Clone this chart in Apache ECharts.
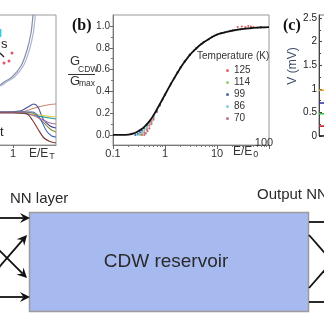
<!DOCTYPE html>
<html><head><meta charset="utf-8">
<script src="https://cdn.jsdelivr.net/npm/echarts@6/dist/echarts.min.js"></script>
<style>html,body{margin:0;padding:0;background:#fff;overflow:hidden}#c{width:324px;height:330px}</style>
</head><body><div id="c"></div>
<script>
const FONT = 'Arial, "Liberation Sans", sans-serif';

// ---- panel (a): E/E_T curves ----
const aOuter = [[0.30,0.54],[0.465,0.57],[0.698,0.60],[0.791,0.63],[0.977,0.68],[1.186,0.79],[1.326,0.95],[1.419,1.12],[1.465,1.30],[1.49,1.40]];
const aInner = [[0.35,0.54],[0.52,0.57],[0.75,0.60],[0.845,0.63],[1.03,0.68],[1.24,0.79],[1.38,0.95],[1.472,1.12],[1.52,1.30],[1.545,1.40]];
const aRedDots = [[0.977,0.92],[0.907,0.84],[0.791,0.82]];
const aBrown = [[0,0.34],[0.7,0.33],[1.16,0.33],[1.4,0.355],[1.63,0.385],[1.86,0.405],[2.0,0.41]];
const aNavy = [[0,0.32],[0.7,0.33],[1.16,0.34],[1.35,0.38],[1.48,0.41],[1.58,0.38],[1.7,0.26],[1.86,0.19],[2.0,0.17]];
const aTeal = [[0,0.33],[0.7,0.33],[1.16,0.32],[1.5,0.295],[2.0,0.26]];
const aYellow = [[0,0.335],[0.7,0.33],[1.16,0.325],[1.5,0.305],[2.0,0.28]];
const aOlive = [[0,0.33],[0.7,0.33],[1.16,0.33],[1.45,0.32],[1.65,0.25],[1.86,0.16],[2.0,0.13]];
const aBlue = [[0,0.325],[0.7,0.33],[1.16,0.33],[1.45,0.33],[1.62,0.27],[1.78,0.14],[1.9,0.09],[2.0,0.08]];
const aMauve = [[0,0.33],[0.7,0.33],[1.16,0.325],[1.45,0.30],[1.65,0.26],[1.86,0.22],[2.0,0.21]];
const aDarkRed = [[0,0.32],[0.7,0.32],[1.0,0.32],[1.3,0.315],[1.45,0.25],[1.58,0.16],[1.72,0.07],[1.86,0.035],[2.0,0.02]];
const aTickValues = [1];

// ---- panel (b): normalised CDW conductance ----
const bYTicks = [0, 0.2, 0.4, 0.6, 0.8, 1.0];
const bYMinor = [0.1, 0.3, 0.5, 0.7, 0.9];
const bFit = [[0.1,0],[0.15,0],[0.2,0.004],[0.25,0.014],[0.3,0.032],[0.35,0.052],[0.4,0.075],[0.5,0.125],[0.6,0.18],[0.7,0.235],[0.8,0.285],[1,0.37],[1.25,0.455],[1.5,0.52],[2,0.62],[2.5,0.685],[3,0.735],[4,0.795],[5,0.835],[7,0.88],[10,0.922],[15,0.945],[20,0.958],[30,0.972],[50,0.982],[70,0.987],[100,0.99]];
const temperatures = ['125', '114', '99', '86', '70'];
const tempColors = ['#d9413a', '#7dbb4f', '#2b3f8f', '#5fc3e6', '#b24a6a'];
const dots125 = [[0.36,0],[0.4,0.02],[0.45,0.05],[0.5,0.085],[0.55,0.12],[0.6,0.155],[0.7,0.22],[0.8,0.275],[1,0.365],[1.25,0.45],[1.5,0.52],[2,0.62],[3,0.735],[4,0.795],[5,0.835],[7,0.88],[10,0.918],[15,0.945],[20,0.962],[25,0.99],[30,0.995],[35,0.99],[40,1.0],[45,0.995],[50,0.99],[70,0.99]];
const dots114 = [[0.33,0],[0.36,0.015],[0.4,0.035],[0.45,0.065],[0.5,0.1],[0.55,0.135],[0.6,0.165],[0.7,0.225],[0.8,0.28],[1,0.368],[1.3,0.47],[1.5,0.52],[2,0.62],[2.5,0.685],[3,0.735],[4,0.795],[5,0.835],[7,0.88],[10,0.915],[15,0.945],[20,0.958],[30,0.97],[45,0.98],[80,0.988]];
const dots99 = [[0.27,0],[0.3,0.01],[0.33,0.025],[0.36,0.04],[0.4,0.06],[0.45,0.09],[0.5,0.12],[0.6,0.178],[0.7,0.232],[0.8,0.283],[1,0.37],[1.3,0.47],[1.75,0.575],[2.4,0.675],[3,0.735],[4,0.795],[5.5,0.85],[8,0.9],[12,0.935],[18,0.955],[28,0.97],[45,0.98],[70,0.987]];
const dots86 = [[0.3,0],[0.33,0.012],[0.36,0.028],[0.4,0.05],[0.45,0.08],[0.5,0.11],[0.6,0.172],[0.7,0.23],[0.8,0.282],[1,0.37],[1.3,0.47],[1.75,0.575],[2.4,0.675],[3.6,0.775],[5,0.835],[7,0.88],[10,0.92],[16,0.95],[25,0.966],[40,0.978],[65,0.986]];
const dots70 = [[0.4,0],[0.43,0.015],[0.46,0.035],[0.5,0.06],[0.55,0.1],[0.6,0.14],[0.7,0.21],[0.8,0.27],[0.9,0.325],[1,0.368],[1.3,0.47],[1.75,0.575],[2.4,0.675],[3.6,0.775],[5.5,0.85],[9,0.91],[14,0.942],[22,0.962],[35,0.976],[60,0.985]];
const tempDots = [dots125, dots114, dots99, dots86, dots70];
const bMinorE = [0.2,0.3,0.4,0.5,0.6,0.7,0.8,0.9,2,3,4,5,6,7,8,9,20,30,40,50,60,70,80,90];

// ---- panel (c): voltage traces ----
const cTicks = [0, 0.5, 1, 1.5, 2, 2.5];
const cMinor = [0.25, 0.75, 1.25, 1.75, 2.25];
const cLevels = [0, 0.21, 0.47, 0.70, 0.97];
const cColors = ['#1a1a1a', '#d03030', '#33c033', '#2a2aa8', '#e0a030'];

function lineSeries(data, color, width, xi, yi) {
  return { type: 'line', data: data, xAxisIndex: xi, yAxisIndex: yi, smooth: 0.35,
    showSymbol: false, symbol: 'none', silent: true,
    lineStyle: { color: color, width: width }, itemStyle: { color: color } };
}

function arrow(fx, fy, tx, ty) {
  const dx = tx - fx, dy = ty - fy, len = Math.hypot(dx, dy);
  const ux = dx / len, uy = dy / len, nx = -uy, ny = ux;
  const L = 10, W = 5, N = 6.5;
  return [
    { type: 'line', z: 100, shape: { x1: fx, y1: fy, x2: tx - N * ux, y2: ty - N * uy }, style: { stroke: '#111', lineWidth: 1.8 } },
    { type: 'polygon', z: 100, shape: { points: [[tx, ty], [tx - L * ux + W * nx, ty - L * uy + W * ny], [tx - N * ux, ty - N * uy], [tx - L * ux - W * nx, ty - L * uy - W * ny]] }, style: { fill: '#111' } }
  ];
}

const series = [];
// (a)
series.push(lineSeries(aOuter, '#868ea8', 1.2, 0, 0));
series.push(lineSeries(aInner, '#aab4d2', 1.2, 0, 0));
[[aBrown,'#c98770'],[aNavy,'#4a4c9a'],[aTeal,'#2f9f8f'],[aYellow,'#d9cf4a'],[aOlive,'#8f9040'],[aBlue,'#3f63c0'],[aMauve,'#a56ea8'],[aDarkRed,'#7b3535']]
  .forEach(([d, c]) => series.push(lineSeries(d, c, 1.1, 0, 0)));
series.push({ type: 'scatter', data: aRedDots, xAxisIndex: 0, yAxisIndex: 0, symbolSize: 3, itemStyle: { color: '#d03040' }, silent: true });
// (b)
temperatures.forEach((t, i) => series.push({ type: 'scatter', name: t, data: tempDots[i], xAxisIndex: 1, yAxisIndex: 1,
  symbol: 'circle', symbolSize: 2.2, itemStyle: { color: tempColors[i] }, silent: true, z: 3 }));
const fit = lineSeries(bFit, '#111', 1.8, 1, 1); fit.z = 5; fit.smooth = 0.3;
series.push(fit);
// (c)
cLevels.forEach((v, i) => series.push(Object.assign(lineSeries([[0, v], [1, v]], cColors[i], 1.6, 4, 3), { smooth: false })));

const lbl = (size, extra) => Object.assign({ fontFamily: FONT, fontSize: size, color: '#333' }, extra || {});

const option = {
  animation: false,
  backgroundColor: '#fff',
  grid: [
    { left: -30, top: 15, width: 86, height: 130, show: true, borderColor: '#9a9a9a', borderWidth: 1, outerBoundsMode: 'none', containLabel: false },
    { left: 113, top: 15, width: 156, height: 130, show: true, borderColor: '#9a9a9a', borderWidth: 1, outerBoundsMode: 'none', containLabel: false },
    { left: 319, top: 15, width: 60, height: 121, show: true, borderColor: '#777', borderWidth: 1, outerBoundsMode: 'none', containLabel: false }
  ],
  xAxis: [
    { gridIndex: 0, type: 'value', position: 'bottom', min: 0, max: 2, splitLine: { show: false },
      axisLine: { onZero: false, lineStyle: { color: '#888' } },
      axisTick: { customValues: aTickValues, length: 3, lineStyle: { color: '#666' } },
      axisLabel: lbl(11, { customValues: aTickValues, margin: 3 }) },
    { gridIndex: 1, type: 'log', position: 'bottom', logBase: 10, min: 0.1, max: 100, splitLine: { show: false },
      axisLine: { onZero: false, lineStyle: { color: '#777' } },
      axisTick: { length: 4, lineStyle: { color: '#666' } },
      axisLabel: lbl(11, { margin: 3, formatter: v => (Math.abs(v - 100) < 1e-6 ? '' : String(v)) }) },
    { gridIndex: 1, type: 'log', position: 'bottom', logBase: 10, min: 0.1, max: 100, offset: -11, splitLine: { show: false },
      axisLine: { show: false, onZero: false }, axisTick: { show: false },
      axisLabel: lbl(11, { margin: 3, formatter: v => (Math.abs(v - 100) < 1e-6 ? '{p|100}' : ''), rich: { p: { fontFamily: FONT, fontSize: 11, color: '#333', padding: [0, 10, 0, 0] } } }) },
    { gridIndex: 1, type: 'value', position: 'bottom', min: -1, max: 2, splitLine: { show: false },
      axisLine: { show: false, onZero: false },
      axisTick: { customValues: bMinorE.map(Math.log10), length: 2, lineStyle: { color: '#777' } },
      axisLabel: { show: false } },
    { gridIndex: 2, type: 'value', position: 'bottom', min: 0, max: 1, show: false, axisLine: { onZero: false } }
  ],
  yAxis: [
    { gridIndex: 0, type: 'value', position: 'left', min: 0, max: 1.3, show: false, axisLine: { onZero: false } },
    { gridIndex: 1, type: 'value', position: 'left', min: -0.092, max: 1.101, splitLine: { show: false },
      axisLine: { show: true, onZero: false, lineStyle: { color: '#777' } },
      axisTick: { show: true, customValues: bYTicks, length: 3, lineStyle: { color: '#666' } },
      axisLabel: lbl(10, { customValues: bYTicks, margin: 3, formatter: v => v.toFixed(1) }) },
    { gridIndex: 1, type: 'value', position: 'left', min: -0.092, max: 1.101, splitLine: { show: false },
      axisLine: { show: false, onZero: false },
      axisTick: { show: true, customValues: bYMinor, length: 2, lineStyle: { color: '#777' } },
      axisLabel: { show: false } },
    { gridIndex: 2, type: 'value', position: 'left', min: 0, max: 2.564, splitLine: { show: false },
      axisLine: { show: true, onZero: false, lineStyle: { color: '#444' } },
      axisTick: { show: true, inside: true, customValues: cTicks, length: 3, lineStyle: { color: '#444' } },
      axisLabel: lbl(10, { customValues: cTicks, margin: 2, color: '#222' }) },
    { gridIndex: 2, type: 'value', position: 'left', min: 0, max: 2.564, splitLine: { show: false },
      axisLine: { show: false, onZero: false },
      axisTick: { show: true, inside: true, customValues: cMinor, length: 2, lineStyle: { color: '#444' } },
      axisLabel: { show: false } }
  ],
  legend: {
    data: temperatures, orient: 'vertical', left: 226, top: 65, padding: 0,
    icon: 'circle', itemWidth: 3, itemHeight: 3, itemGap: 1, selectedMode: false,
    textStyle: { fontFamily: FONT, fontSize: 10, color: '#333', lineHeight: 11 }
  },
  series: series,
  graphic: [
    // panel (a) annotations
    { type: 'text', z: 100, left: -1, top: 28, style: { text: 'I', font: 'bold 11px ' + FONT, fill: '#2ec8e8' } },
    { type: 'text', z: 100, left: 1, top: 38, style: { text: 's', font: '13px ' + FONT, fill: '#222' } },
    { type: 'polyline', z: 100, shape: { points: [[-3, 51], [1, 54], [4, 57]] }, style: { stroke: '#222', lineWidth: 1.4, fill: null } },
    { type: 'text', z: 100, left: 0, top: 126, style: { text: 't', font: '13px ' + FONT, fill: '#222' } },
    { type: 'text', z: 100, left: 29, top: 148, style: { text: '{m|E/E}{s|T}', rich: { m: { font: '12px ' + FONT, fill: '#333' }, s: { font: '9px ' + FONT, fill: '#333', padding: [6, 0, 0, 1] } } } },
    // panel (b) labels
    { type: 'text', z: 100, left: 72, top: 18, style: { text: '(b)', font: 'bold 16px "Liberation Serif", "DejaVu Serif", serif', fill: '#111' } },
    { type: 'text', z: 100, left: 70, top: 55, style: { text: 'G', font: '13px ' + FONT, fill: '#333' } },
    { type: 'text', z: 100, left: 78, top: 65, style: { text: 'CDW', font: '8.5px ' + FONT, fill: '#333' } },
    { type: 'line', z: 100, shape: { x1: 68, y1: 74.5, x2: 95, y2: 74.5 }, style: { stroke: '#333', lineWidth: 1 } },
    { type: 'text', z: 100, left: 70, top: 75, style: { text: 'G', font: '13px ' + FONT, fill: '#333' } },
    { type: 'text', z: 100, left: 79, top: 79, style: { text: 'max', font: '8.5px ' + FONT, fill: '#333' } },
    { type: 'text', z: 100, left: 197, top: 51, style: { text: 'Temperature (K)', font: '10px ' + FONT, fill: '#333' } },
    { type: 'text', z: 100, left: 233, top: 146, style: { text: '{m|E/E}{s|0}', rich: { m: { font: '12px ' + FONT, fill: '#333' }, s: { font: '9px ' + FONT, fill: '#333', padding: [6, 0, 0, 1] } } } },
    // panel (c) labels
    { type: 'text', z: 100, left: 283, top: 18, style: { text: '(c)', font: 'bold 16px "Liberation Serif", "DejaVu Serif", serif', fill: '#111' } },
    { type: 'text', z: 100, x: 293, y: 66, rotation: Math.PI / 2, style: { text: 'V (mV)', font: '12px ' + FONT, fill: '#3b4a6b', align: 'center', verticalAlign: 'middle' } },
    // reservoir schematic
    { type: 'rect', z: 90, shape: { x: 29.5, y: 212.5, width: 279, height: 99 }, style: { fill: '#a7baf0', stroke: '#9c9c9c', lineWidth: 1.5 } },
    { type: 'text', z: 100, x: 166, y: 262, style: { text: 'CDW reservoir', font: '19px ' + FONT, fill: '#2a2a2a', align: 'center', verticalAlign: 'middle' } },
    { type: 'text', z: 100, x: 10, y: 199, style: { text: 'NN layer', font: '15px ' + FONT, fill: '#2a2a2a', verticalAlign: 'middle' } },
    { type: 'text', z: 100, x: 257, y: 195, style: { text: 'Output NN layer', font: '15px ' + FONT, fill: '#2a2a2a', verticalAlign: 'middle' } },
    ...arrow(-5, 218, 30, 218),
    ...arrow(-5, 297, 30, 297),
    ...arrow(-5, 271.8, 27, 235),
    ...arrow(-5, 246, 27, 278),
    { type: 'line', z: 100, shape: { x1: 309, y1: 222, x2: 330, y2: 222 }, style: { stroke: '#111', lineWidth: 1.8 } },
    { type: 'line', z: 100, shape: { x1: 309, y1: 302, x2: 330, y2: 302 }, style: { stroke: '#111', lineWidth: 1.8 } },
    { type: 'line', z: 100, shape: { x1: 309, y1: 235, x2: 330, y2: 259 }, style: { stroke: '#111', lineWidth: 1.8 } },
    { type: 'line', z: 100, shape: { x1: 309, y1: 288, x2: 330, y2: 264 }, style: { stroke: '#111', lineWidth: 1.8 } }
  ]
};

const chart = echarts.init(document.getElementById('c'), null, { renderer: 'canvas', width: 324, height: 330 });
chart.setOption(option);
</script></body></html>
